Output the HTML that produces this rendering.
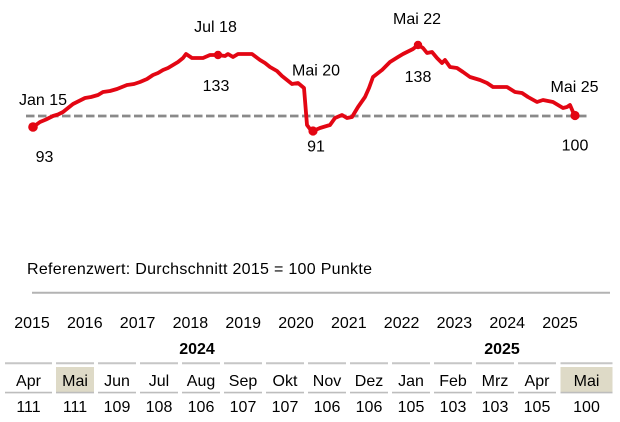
<!DOCTYPE html>
<html>
<head>
<meta charset="utf-8">
<style>
  html,body{margin:0;padding:0;background:#fff;}
  svg{display:block;}
  text{font-family:"Liberation Sans",Arial,sans-serif;fill:#000;}
</style>
</head>
<body>
<svg width="620" height="422" viewBox="0 0 620 422" xmlns="http://www.w3.org/2000/svg">
  <rect x="0" y="0" width="620" height="422" fill="#fff"/>

  <!-- reference dashed line -->
  <line x1="26" y1="116" x2="588" y2="116" stroke="#8a8a8a" stroke-width="2.7" stroke-dasharray="8.5 3.5"/>

  <!-- series -->
  <polyline fill="none" stroke="#e30613" stroke-width="3.8" stroke-linejoin="round" stroke-linecap="round"
    points="32.7,127.3 40,122 46,119.5 53,116 58,114.5 63,112 68,108 73,104 79,101 85,98 91,97 98,95 103,92 110,91 117,89 122,87 127,85 134,84 140,82 147,79 153,75 158,73 163,70 168,68 173,65 178,62 183,58 186,54 192,58 203,58 210,55 218,55 225,56 228,54 233,57 238,54 252,54 260,60 265,63 270,67 277,71 282,76 287,80 292,84 298,83 304,88 307,125 310,129 313,131 320,128 330,125 335,118 342,115 347,118 352,117 358,107 365,97 369,88 373,77 382,70 386,66 390,62 398,57 403,54 407,52 413,49 418,45 423,48 427,53 432,52 437,58 442,63 445,60 450,67 457,68 463,72 470,77 480,80 487,83 493,87 507,87 515,92 522,93 528,97 537,102 543,100 553,102 563,108 567,107 570,105 573,112 575,115"/>
  <circle cx="33" cy="127" r="4.8" fill="#e30613"/>
  <circle cx="218" cy="55" r="4.2" fill="#e30613"/>
  <circle cx="313" cy="131" r="4.6" fill="#e30613"/>
  <circle cx="418" cy="45" r="4.2" fill="#e30613"/>
  <circle cx="575" cy="115.5" r="4.6" fill="#e30613"/>

  <!-- annotations -->
  <g font-size="16" text-anchor="middle">
    <text x="43" y="105">Jan 15</text>
    <text x="44.5" y="162">93</text>
    <text x="215.5" y="32">Jul 18</text>
    <text x="216" y="91">133</text>
    <text x="316" y="75.5">Mai 20</text>
    <text x="316" y="151.5">91</text>
    <text x="417" y="24">Mai 22</text>
    <text x="418" y="82">138</text>
    <text x="574.5" y="92">Mai 25</text>
    <text x="575" y="150.5">100</text>
  </g>

  <!-- reference note -->
  <text x="27" y="274" font-size="16" textLength="345" lengthAdjust="spacing">Referenzwert:  Durchschnitt 2015 = 100 Punkte</text>

  <!-- gray separator -->
  <line x1="32" y1="292.7" x2="610" y2="292.7" stroke="#b3b3b3" stroke-width="2"/>

  <!-- year axis labels -->
  <g font-size="16" text-anchor="middle">
    <text x="32" y="328">2015</text>
    <text x="84.8" y="328">2016</text>
    <text x="137.6" y="328">2017</text>
    <text x="190.4" y="328">2018</text>
    <text x="243.2" y="328">2019</text>
    <text x="296" y="328">2020</text>
    <text x="348.8" y="328">2021</text>
    <text x="401.6" y="328">2022</text>
    <text x="454.4" y="328">2023</text>
    <text x="507.2" y="328">2024</text>
    <text x="560" y="328">2025</text>
  </g>

  <!-- table years -->
  <g font-size="16" font-weight="bold" text-anchor="middle">
    <text x="197" y="354">2024</text>
    <text x="502" y="354">2025</text>
  </g>

  <!-- highlight boxes -->
  <rect x="56" y="367" width="38" height="25.5" fill="#deDAc7"/>
  <rect x="560.5" y="367" width="52" height="25.5" fill="#deDAc7"/>

  <!-- table lines -->
  <g stroke="#c6c6c6" stroke-width="2">
    <line x1="5" y1="363.3" x2="52" y2="363.3"/>
    <line x1="56" y1="363.3" x2="94" y2="363.3"/>
    <line x1="98" y1="363.3" x2="136" y2="363.3"/>
    <line x1="140" y1="363.3" x2="178" y2="363.3"/>
    <line x1="182" y1="363.3" x2="220" y2="363.3"/>
    <line x1="224" y1="363.3" x2="262" y2="363.3"/>
    <line x1="266" y1="363.3" x2="304" y2="363.3"/>
    <line x1="308" y1="363.3" x2="346" y2="363.3"/>
    <line x1="350" y1="363.3" x2="388" y2="363.3"/>
    <line x1="392" y1="363.3" x2="430" y2="363.3"/>
    <line x1="434" y1="363.3" x2="472" y2="363.3"/>
    <line x1="476" y1="363.3" x2="514" y2="363.3"/>
    <line x1="518" y1="363.3" x2="556" y2="363.3"/>
    <line x1="560.5" y1="363.3" x2="612.5" y2="363.3"/>
  </g>
  <g stroke="#bdbdbd" stroke-width="1.6">
    <line x1="5" y1="392.6" x2="52" y2="392.6"/>
    <line x1="56" y1="392.6" x2="94" y2="392.6"/>
    <line x1="98" y1="392.6" x2="136" y2="392.6"/>
    <line x1="140" y1="392.6" x2="178" y2="392.6"/>
    <line x1="182" y1="392.6" x2="220" y2="392.6"/>
    <line x1="224" y1="392.6" x2="262" y2="392.6"/>
    <line x1="266" y1="392.6" x2="304" y2="392.6"/>
    <line x1="308" y1="392.6" x2="346" y2="392.6"/>
    <line x1="350" y1="392.6" x2="388" y2="392.6"/>
    <line x1="392" y1="392.6" x2="430" y2="392.6"/>
    <line x1="434" y1="392.6" x2="472" y2="392.6"/>
    <line x1="476" y1="392.6" x2="514" y2="392.6"/>
    <line x1="518" y1="392.6" x2="556" y2="392.6"/>
    <line x1="560.5" y1="392.6" x2="612.5" y2="392.6"/>
  </g>

  <!-- months -->
  <g font-size="16" text-anchor="middle">
    <text x="28.5" y="386">Apr</text>
    <text x="75" y="386">Mai</text>
    <text x="117" y="386">Jun</text>
    <text x="159" y="386">Jul</text>
    <text x="201" y="386">Aug</text>
    <text x="243" y="386">Sep</text>
    <text x="285" y="386">Okt</text>
    <text x="327" y="386">Nov</text>
    <text x="369" y="386">Dez</text>
    <text x="411" y="386">Jan</text>
    <text x="453" y="386">Feb</text>
    <text x="495" y="386">Mrz</text>
    <text x="537" y="386">Apr</text>
    <text x="586.5" y="386">Mai</text>
  </g>

  <!-- values -->
  <g font-size="16" text-anchor="middle">
    <text x="28.5" y="412">111</text>
    <text x="75" y="412">111</text>
    <text x="117" y="412">109</text>
    <text x="159" y="412">108</text>
    <text x="201" y="412">106</text>
    <text x="243" y="412">107</text>
    <text x="285" y="412">107</text>
    <text x="327" y="412">106</text>
    <text x="369" y="412">106</text>
    <text x="411" y="412">105</text>
    <text x="453" y="412">103</text>
    <text x="495" y="412">103</text>
    <text x="537" y="412">105</text>
    <text x="586.5" y="412">100</text>
  </g>
</svg>
</body>
</html>
